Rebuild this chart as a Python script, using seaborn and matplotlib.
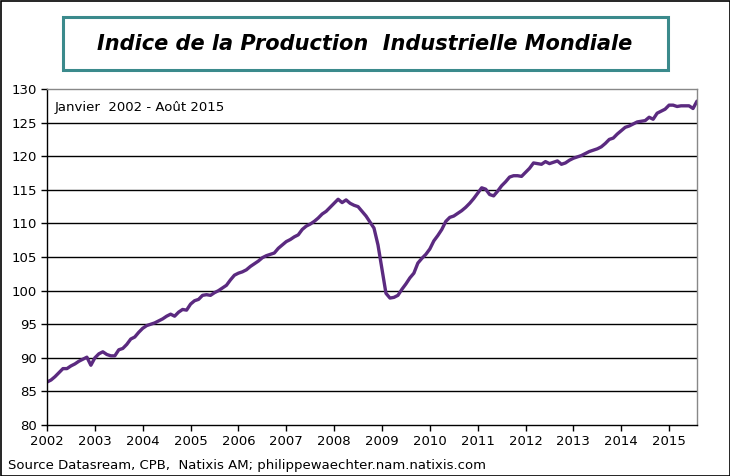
import numpy as np
import pandas as pd
import matplotlib
matplotlib.use("Agg")
import matplotlib.pyplot as plt
import seaborn as sns
from matplotlib.patches import Rectangle

# Indice mensuel, janvier 2002 - aout 2015
y2002 = [86.4, 86.7, 87.2, 87.8, 88.4, 88.4, 88.8, 89.1, 89.5, 89.8, 90.1, 88.9]
y2003 = [90.0, 90.6, 90.9, 90.5, 90.3, 90.3, 91.2, 91.4, 92.0, 92.8, 93.1, 93.8]
y2004 = [94.4, 94.8, 95.0, 95.2, 95.5, 95.8, 96.2, 96.5, 96.2, 96.8, 97.2, 97.1]
y2005 = [98.0, 98.5, 98.7, 99.3, 99.4, 99.3, 99.7, 100.0, 100.4, 100.8, 101.6, 102.3]
y2006 = [102.6, 102.8, 103.1, 103.6, 104.0, 104.4, 104.9, 105.2, 105.4, 105.6, 106.3, 106.8]
y2007 = [107.3, 107.6, 108.0, 108.3, 109.1, 109.6, 109.9, 110.3, 110.8, 111.4, 111.8, 112.4]
y2008 = [113.0, 113.6, 113.1, 113.5, 113.0, 112.7, 112.5, 111.8, 111.1, 110.2, 109.3, 106.8]
y2009 = [103.2, 99.6, 98.9, 99.0, 99.3, 100.2, 101.0, 101.9, 102.6, 104.1, 104.8, 105.4]
y2010 = [106.2, 107.4, 108.2, 109.1, 110.3, 110.9, 111.1, 111.5, 111.9, 112.4, 113.0, 113.7]
y2011 = [114.5, 115.3, 115.1, 114.3, 114.1, 114.8, 115.6, 116.2, 116.9, 117.1, 117.1, 117.0]
y2012 = [117.6, 118.2, 119.0, 118.9, 118.8, 119.2, 118.9, 119.1, 119.3, 118.8, 119.0, 119.4]
y2013 = [119.7, 119.9, 120.1, 120.4, 120.7, 120.9, 121.1, 121.4, 121.9, 122.5, 122.7, 123.3]
y2014 = [123.8, 124.3, 124.5, 124.8, 125.1, 125.2, 125.3, 125.8, 125.5, 126.4, 126.7, 127.0]
y2015 = [127.6, 127.6, 127.4, 127.5, 127.5, 127.5, 127.1, 128.2]

years = list(range(2002, 2016))
series = [y2002, y2003, y2004, y2005, y2006, y2007, y2008, y2009, y2010,
          y2011, y2012, y2013, y2014, y2015]

rows = []
for yr, vals in zip(years, series):
    for m, v in enumerate(vals):
        rows.append({"date": yr + m / 12, "indice": v})
df = pd.DataFrame(rows)

sns.set_style("white")
plt.rcParams["font.family"] = ["DejaVu Sans"]
plt.rcParams["text.color"] = "black"
plt.rcParams["xtick.color"] = "black"
plt.rcParams["ytick.color"] = "black"

fig = plt.figure(figsize=(7.30, 4.76), dpi=100)
ax = fig.add_axes([0.0644, 0.107, 0.8904, 0.706])

sns.lineplot(data=df, x="date", y="indice", ax=ax, color="#5b2a80", linewidth=2.4)

ax.set_xlim(2002, df["date"].max())
ax.set_ylim(80, 130)
ax.set_xticks(years)
ax.set_xticklabels([str(y) for y in years])
ax.set_yticks(range(80, 131, 5))
ax.tick_params(axis="both", labelsize=9.5, length=4, width=1, color="black",
               labelcolor="black", direction="out", left=True, bottom=True, pad=3)
ax.set_xlabel("")
ax.set_ylabel("")

for v in range(85, 130, 5):
    ax.axhline(v, color="black", linewidth=1, zorder=0)

ax.spines["left"].set_color("black")
ax.spines["bottom"].set_color("black")
ax.spines["top"].set_color("#888888")
ax.spines["right"].set_color("#888888")
for s in ax.spines.values():
    s.set_linewidth(1)

ax.text(0.012, 0.945, "Janvier  2002 - Août 2015", transform=ax.transAxes,
        fontsize=9.5, va="center", ha="left", color="black")

# Titre dans un cadre
fig.patches.append(Rectangle((63 / 730, 1 - 70 / 476), 605 / 730, 53 / 476,
                             transform=fig.transFigure, fill=False,
                             edgecolor="#3b8a8c", linewidth=2.2))
fig.text(365 / 730, 1 - 44 / 476, "Indice de la Production  Industrielle Mondiale",
         ha="center", va="center", fontsize=15, fontweight="bold", style="italic",
         color="black")

fig.text(8 / 730, 1 - 465 / 476, "Source Datasream, CPB,  Natixis AM; philippewaechter.nam.natixis.com",
         ha="left", va="center", fontsize=9.5, color="black")

# Cadre exterieur
fig.patches.append(Rectangle((0.5 / 730, 0.5 / 476), 729 / 730, 475 / 476,
                             transform=fig.transFigure, fill=False,
                             edgecolor="black", linewidth=1.2))

fig.savefig("out.png", dpi=100)
